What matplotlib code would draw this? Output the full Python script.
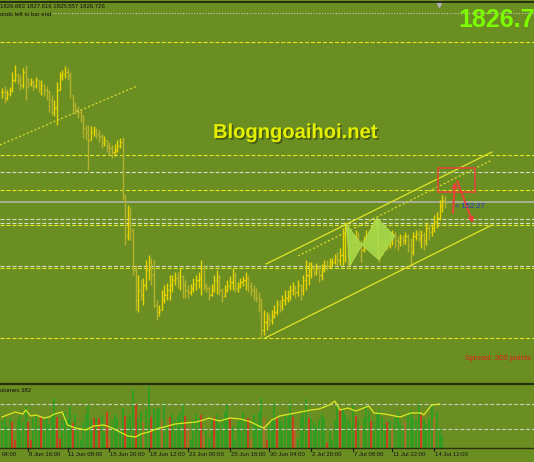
import numpy as np
import matplotlib
matplotlib.use('Agg')
import matplotlib.pyplot as plt
from matplotlib.lines import Line2D
from matplotlib.patches import Rectangle, Polygon
import matplotlib.patheffects as pe

plt.rcParams['font.family'] = ['Liberation Sans', 'DejaVu Sans']
plt.rcParams['lines.scale_dashes'] = False
SMALL = 4.3

# XAUUSD H4, 7 Jun - 14 Jul (bar chart, open = previous close)
close = [
    1882, 1879, 1881, 1883, 1888, 1890.5, 1888, 1885.5, 1892, 1889,
    1886, 1887, 1885, 1888, 1884, 1885.5, 1883, 1882, 1878, 1872,
    1874, 1883, 1890, 1891, 1892, 1890.5, 1880.5, 1875.5, 1873, 1872,
    1870.5, 1864, 1862, 1858, 1862, 1863, 1861, 1860, 1857, 1858,
    1855, 1854, 1852, 1853, 1855, 1857, 1830.5, 1810.5, 1820.5, 1813,
    1793, 1778, 1783, 1780.5, 1785.5, 1793, 1797, 1790.5, 1775.5, 1772,
    1773, 1778, 1780.5, 1783, 1785.5, 1788, 1789, 1787, 1790, 1785.5,
    1783, 1782, 1784, 1786, 1788, 1789, 1794, 1785, 1784, 1780.5,
    1783, 1788, 1790, 1783, 1780, 1783, 1785, 1787, 1790.5, 1784,
    1785, 1787, 1788, 1789, 1785, 1783, 1782, 1779, 1775.5, 1763,
    1767, 1769, 1768, 1770, 1772, 1776, 1775, 1778, 1779, 1780,
    1783, 1784, 1782, 1785.5, 1783, 1788, 1790.5, 1793, 1794, 1792,
    1794, 1790.5, 1793, 1795.5, 1795, 1797, 1797, 1799, 1798, 1800.5,
    1810.5, 1814, 1808, 1804, 1807, 1809, 1805.5, 1803, 1808, 1810,
    1809, 1813, 1815.5, 1817, 1803, 1805.5, 1807, 1805, 1809, 1811,
    1808, 1807, 1809, 1808, 1810, 1805.5, 1802, 1810, 1811, 1809,
    1810.5, 1808, 1814, 1812, 1814, 1817, 1819, 1825, 1828, 1826.7,
]
high = [
    1884, 1885, 1883, 1884.5, 1892, 1895.5, 1891.5, 1890.5, 1894, 1895.5,
    1889, 1889, 1888, 1889.5, 1887, 1888, 1886, 1885, 1883, 1880.5,
    1878, 1887, 1892, 1893, 1895, 1894, 1892, 1880.5, 1877, 1875,
    1873, 1870.5, 1865.5, 1865.5, 1865, 1865, 1864, 1863, 1861, 1860,
    1858, 1857, 1855.5, 1856, 1858, 1859, 1859.5, 1830, 1825.5, 1824.5,
    1814, 1795.5, 1790.5, 1788, 1789, 1798, 1800.5, 1799, 1798, 1778,
    1775.5, 1783, 1785.5, 1786.5, 1790.5, 1790.5, 1792, 1792, 1794, 1790.5,
    1788, 1785.5, 1786, 1789, 1790.5, 1792, 1798, 1795.5, 1786.5, 1785,
    1786, 1790.5, 1793, 1790.5, 1784, 1785.5, 1788, 1790, 1794, 1792,
    1787, 1789, 1790, 1792, 1790, 1787, 1785.5, 1784, 1782, 1779,
    1773, 1772, 1771, 1773, 1775.5, 1778, 1778, 1780.5, 1783, 1783,
    1785.5, 1787, 1785.5, 1788, 1786, 1790.5, 1798, 1797, 1797, 1795.5,
    1796.5, 1795.5, 1796, 1798, 1798, 1799, 1799, 1801, 1802, 1804,
    1814, 1817, 1816, 1810, 1810.5, 1813, 1812, 1808, 1810, 1813,
    1813, 1815.5, 1818, 1819, 1815.5, 1809, 1809, 1808, 1812, 1813,
    1812, 1810, 1811, 1810.5, 1812, 1811, 1809, 1812, 1813, 1813,
    1813, 1812, 1817, 1815.5, 1816, 1820.5, 1822, 1828, 1830.5, 1830,
]
low = [
    1879, 1876.5, 1878, 1880, 1882, 1887, 1886, 1883, 1884, 1878,
    1884, 1885, 1883, 1884, 1882, 1880.5, 1880, 1878, 1872, 1870.5,
    1870, 1865.5, 1885.5, 1888, 1889, 1888, 1879, 1872, 1871, 1869,
    1867, 1859, 1858, 1843, 1858, 1860, 1859, 1857, 1854, 1855,
    1852, 1850.5, 1849, 1850, 1852, 1854, 1828, 1805.5, 1808, 1808,
    1790.5, 1773, 1772, 1778, 1775.5, 1783, 1788, 1785.5, 1774, 1768,
    1770, 1774, 1776.5, 1778, 1778, 1782, 1785.5, 1784, 1783, 1779,
    1779, 1779, 1780.5, 1782, 1783, 1784, 1780.5, 1783, 1782, 1778,
    1780, 1782, 1781, 1780.5, 1777, 1779.5, 1782, 1783, 1783, 1782,
    1782, 1784, 1785, 1783, 1782, 1780, 1778, 1777, 1772, 1759,
    1760.5, 1763, 1765, 1766, 1769, 1770.5, 1772, 1773, 1775.5, 1777,
    1778, 1780.5, 1779, 1780, 1778, 1780.5, 1783, 1785.5, 1789, 1790,
    1790.5, 1787, 1788, 1792, 1793, 1794, 1795, 1796, 1795, 1795.5,
    1795.5, 1797, 1794, 1800.5, 1802, 1803, 1803, 1797, 1802, 1804,
    1805, 1805.5, 1804, 1800.5, 1797, 1800.5, 1803, 1803, 1804, 1805.5,
    1804, 1803, 1805, 1805.5, 1806, 1802, 1795, 1800.5, 1808, 1807,
    1804, 1803, 1805.5, 1808, 1810, 1812, 1814, 1818, 1822, 1824,
]

volume = [
    13500, 15000, 11000, 15000, 13000, 4000, 14000, 16000, 13000, 20500,
    13000, 4000, 15000, 16500, 11000, 15500, 14000, 15000, 12000, 17000,
    25000, 15500, 4500, 14000, 18000, 15000, 21000, 12500, 17000, 11000,
    4000, 13000, 17000, 21000, 14000, 15000, 15000, 15000, 16500, 7500,
    18000, 4500, 14000, 17000, 15000, 9000, 20000, 16000, 15000, 17000,
    29000, 22000, 15000, 18000, 13000, 19000, 30500, 15500, 20000, 19000,
    20000, 14000, 22500, 11000, 15500, 17000, 14000, 16000, 18000, 22500,
    16000, 10000, 4000, 14000, 17000, 15000, 16500, 6000, 10000, 5000,
    14000, 15500, 17000, 12000, 15000, 18000, 22000, 15000, 11000, 4000,
    13000, 15000, 18000, 14000, 15000, 4500, 17000, 13000, 18000, 25000,
    15500, 4000, 11000, 14000, 22500, 15000, 15000, 13000, 16000, 17000,
    23000, 15500, 10000, 5000, 15000, 18000, 24500, 15000, 15000, 13000,
    11000, 14000, 17000, 15000, 2500, 10000, 4000, 14000, 22000, 20000,
    20000, 17000, 15000, 13000, 21500, 16000, 14000, 11000, 15000, 21500,
    18000, 13500, 13000, 17000, 19000, 15000, 12000, 13000, 14000, 10000,
    15000, 18000, 13000, 11000, 13000, 17000, 19000, 15000, 14000, 22500,
    16500, 14000, 12000, 15000, 22000, 15000, 18000, 10000, 6000, 382,
]
red_idx = [4, 5, 10, 11, 15, 21, 22, 27, 35, 37, 40, 47, 51, 57, 64, 70, 76, 81,
           87, 94, 101, 105, 111, 117, 124, 129, 135, 141, 147, 160]
brown_idx = [41, 54, 61, 71, 77, 95, 100, 112, 137, 149, 154, 165]

# volume average line
ma_idx = [0, 3, 5, 8, 9, 11, 13, 16, 18, 20, 23, 25, 28, 32, 35, 39, 42, 45, 48,
          51, 53, 56, 60, 62, 66, 70, 74, 77, 79, 83, 87, 91, 95, 98, 100, 103,
          106, 110, 114, 118, 121, 125, 127, 129, 132, 135, 137, 140, 142, 146,
          150, 152, 156, 160, 161, 164, 167]
ma_vals = [15500, 17000, 18000, 17000, 19000, 16000, 16500, 15000, 15500, 17000,
           18000, 11500, 10000, 9000, 11000, 11500, 10000, 8000, 6000, 5500, 7000,
           8000, 10000, 10500, 12000, 12500, 13000, 14000, 15000, 13500, 15000,
           14500, 13000, 11000, 10000, 14000, 16000, 17000, 18000, 19000, 19500,
           21500, 23500, 19000, 20000, 18500, 19500, 21000, 17500, 17000, 16000,
           15500, 17500, 17500, 16500, 21500, 22000]

# horizontal levels
yellow_levels = [1907, 1850.5, 1833, 1815.5, 1794, 1759]
white_levels = [1842, 1818.5, 1816.5, 1795]
bid_price = 1827
vol_levels = [22000, 9500]

# trendlines (bar index, price)
channel_low = [(100.4, 1759), (187.0, 1815.5)]
channel_high = [(100.8, 1796), (187.0, 1852)]
channel_mid = [(113.0, 1800), (187.0, 1848)]
old_trend = [(-0.8, 1855.5), (51.5, 1885)]

# harmonic pattern points
pat_a = [(131.3, 1816), (132.8, 1795), (137.4, 1805.5)]
pat_b = [(137.4, 1805.5), (143.1, 1819), (143.9, 1798)]
pat_c = [(143.9, 1798), (149.9, 1810), (143.1, 1819)]

tick_idx = [10, 25, 41, 56, 71, 87, 102, 118, 134, 149, 165]
tick_lbl = ["8 Jun 16:00", "11 Jun 08:00", "15 Jun 20:00", "18 Jun 12:00",
            "23 Jun 00:00", "25 Jun 16:00", "30 Jun 04:00", "2 Jul 20:00",
            "7 Jul 08:00", "11 Jul 22:00", "14 Jul 12:00"]

BG = '#6b8e23'
W, H = 534, 462
fig = plt.figure(figsize=(W / 100, H / 100), dpi=100, facecolor=BG)

ax = fig.add_axes([0, 80 / H, 1, 379 / H])
axv = fig.add_axes([0, 14 / H, 1, 63 / H])
XL = (-2 / 2.62, 532 / 2.62)
for a in (ax, axv):
    a.set_facecolor(BG)
    a.set_xlim(*XL)
    a.axis('off')
ax.set_ylim(1737, 1926.5)
axv.set_ylim(0, 31500)

n = len(close)
idx = np.arange(n)
opn = [close[0]] + close[:-1]

# levels
for lv in yellow_levels:
    ax.axhline(lv, color='#e6e61e', lw=0.8, dashes=(2.9, 1.4))
for lv in white_levels:
    ax.axhline(lv, color='#d8dcc8', lw=0.8, dashes=(2.9, 1.4))
ax.axhline(bid_price, color='#b4b4a8', lw=1.2)
ax.plot([19, XL[1]], [1921.5, 1921.5], color='#c8ccb8', lw=0.8, dashes=(0.8, 1.2))

# bars
for i in idx:
    o, c = opn[i], close[i]
    hi = max(high[i], o, c)
    lo = min(low[i], o, c)
    col = '#e8d400' if c >= o else '#b4b22c'
    ax.plot([i, i], [lo, hi], color=col, lw=1.0, solid_capstyle='butt')
    ax.plot([i - 0.45, i], [o, o], color=col, lw=1.0, solid_capstyle='butt')
    ax.plot([i, i + 0.45], [c, c], color=col, lw=1.0, solid_capstyle='butt')

# pattern fills
for pts in (pat_a, pat_b, pat_c):
    ax.add_patch(Polygon(pts, closed=True, facecolor='#a6d84a', edgecolor='#b8e050',
                         lw=0.6, alpha=0.9, zorder=3))

# trendlines
for ln in (channel_low, channel_high):
    ax.plot([p[0] for p in ln], [p[1] for p in ln], color='#e2e628', lw=0.9)
for ln in (channel_mid, old_trend):
    ax.plot([p[0] for p in ln], [p[1] for p in ln], color='#d6dc2a', lw=0.9,
            dashes=(1.5, 1.5))

# box and arrows
ax.add_patch(Rectangle((166.4, 1832), 14.1, 12, fill=False, ec='#e8403a', lw=1.1,
                       zorder=5))
ax.annotate('', xy=(172.9, 1837), xytext=(172.1, 1821.5),
            arrowprops=dict(arrowstyle='-|>', color='#ec4038', lw=1.4,
                            mutation_scale=7, shrinkA=0, shrinkB=0), zorder=6)
ax.annotate('', xy=(179.8, 1816.5), xytext=(173.7, 1837.5),
            arrowprops=dict(arrowstyle='-|>', color='#ec4038', lw=1.4,
                            mutation_scale=7, shrinkA=0, shrinkB=0), zorder=6)

# volume panel
vcol = []
for i in idx:
    if i in red_idx:
        vcol.append('#e8281c')
    elif i in brown_idx:
        vcol.append('#b8682a')
    else:
        vcol.append('#24a024')
axv.vlines(idx, 0, volume, colors=vcol, lw=1.1)
for lv in vol_levels:
    axv.axhline(lv, color='#c8ccb8', lw=0.8, dashes=(2.9, 1.4))
axv.plot(ma_idx, ma_vals, color='#dcea22', lw=0.9)

# separators
def hline_px(y, col, lw):
    fig.add_artist(Line2D([0, 1], [1 - y / H, 1 - y / H], transform=fig.transFigure,
                          color=col, lw=lw))

hline_px(1.5, '#263010', 1.4)
hline_px(383.5, '#263010', 1.6)
hline_px(448, '#2a3212', 1.0)

# time axis
for ti, tl in zip(tick_idx, tick_lbl):
    xp = 2 + 2.62 * ti
    fig.add_artist(Line2D([xp / W, xp / W], [1 - 448 / H, 1 - 451 / H],
                          transform=fig.transFigure, color='#1a1a1a', lw=0.8))
    fig.text((xp + 1) / W, 1 - 455 / H, tl, fontsize=SMALL, color='#141414',
             va='center', ha='left')
fig.text(2 / W, 1 - 455 / H, "04:00", fontsize=SMALL, color='#141414', va='center')

# texts
fig.text(0, 1 - 6.5 / H, "1826.683 1827.616 1825.557 1826.726", fontsize=SMALL,
         color='#101010', va='center')
fig.text(0, 1 - 15 / H, "onds left to bar end", fontsize=SMALL, color='#101010',
         va='center')
fig.text(0, 1 - 391 / H, "olumes 382", fontsize=SMALL, color='#101010', va='center')
fig.text(458 / W, 1 - 27 / H, "1826.72", fontsize=18, fontweight='bold',
         color='#7cfc00', va='baseline')
fig.text(213 / W, 1 - 138 / H, "Blogngoaihoi.net", fontsize=14.5, fontweight='bold',
         color='#e4f000', va='baseline',
         path_effects=[pe.withSimplePatchShadow(offset=(1.2, -1.2),
                                                shadow_rgbFace='#2c3a08', alpha=0.6)])
fig.text(465 / W, 1 - 358 / H, "Spread: 300 points", fontsize=5.7, color='#e02010',
         va='center')
fig.text(455 / W, 1 - 207 / H, "< 152:27", fontsize=5.5, color='#2038d0',
         va='center')
ax.plot([437 / 2.62], [1926], marker='v', color='#b0b0b0', ms=4, clip_on=False)

fig.savefig('out.png', dpi=100, facecolor=BG)
